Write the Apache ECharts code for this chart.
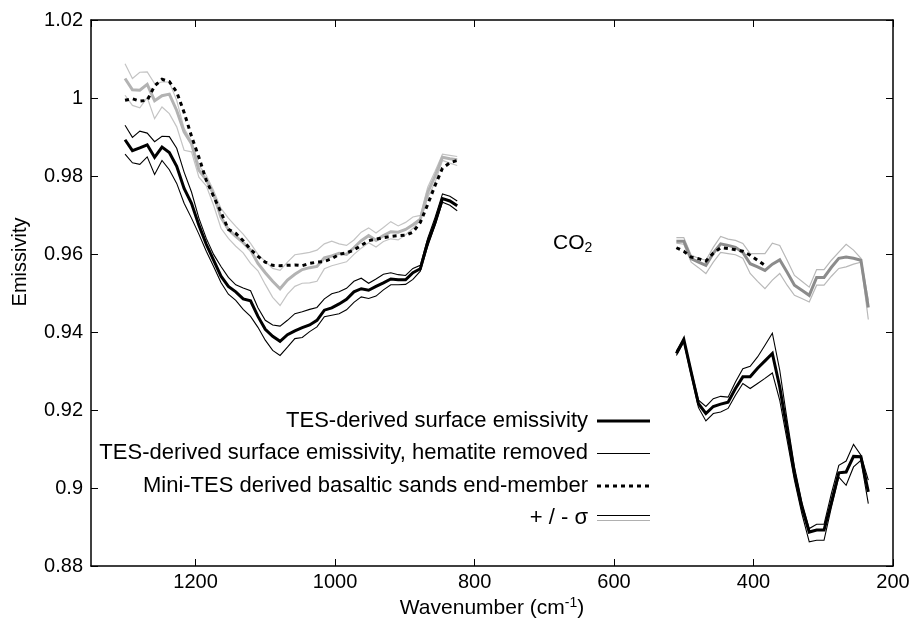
<!DOCTYPE html>
<html>
<head>
<meta charset="utf-8">
<script src="https://cdn.jsdelivr.net/npm/echarts@6/dist/echarts.min.js"></script>
<style>html,body{margin:0;padding:0;background:#fff;}#c{width:910px;height:618px;}</style>
</head>
<body>
<div id="c"></div>
<script>
// Wavenumbers (cm-1)
const wn1 = [1301.2,1290.6,1280.0,1269.4,1258.8,1248.2,1237.7,1227.1,1216.5,1205.9,1195.3,1184.7,1174.2,1163.6,1153.0,1142.4,1131.8,1121.2,1110.6,1100.1,1089.5,1078.9,1068.3,1057.7,1047.1,1036.5,1026.0,1015.4,1004.8,994.2,983.6,973.0,962.5,951.9,941.3,930.7,920.1,909.5,898.9,888.4,877.8,867.2,856.6,846.0,835.4,824.9];
const wn2 = [510.6,500.0,489.4,478.9,468.3,457.7,447.1,436.5,425.9,415.3,404.8,394.2,383.6,373.0,362.4,351.8,341.3,330.7,320.1,309.5,298.9,288.3,277.7,267.2,256.6,246.0,235.4];
const wnMini2 = [510.6,500.0,489.4,478.9,468.3,457.7,447.1,436.5,425.9,415.3,404.8,394.2,383.6];

// TES-derived surface emissivity (thick black) and +/- sigma
const tes1 = [0.9893,0.9865,0.9872,0.9880,0.9848,0.9874,0.9860,0.9825,0.9768,0.9730,0.9674,0.9625,0.9584,0.9543,0.9517,0.9503,0.9485,0.9480,0.9440,0.9407,0.9389,0.9376,0.9393,0.9403,0.9411,0.9418,0.9430,0.9456,0.9462,0.9472,0.9484,0.9503,0.9511,0.9507,0.9517,0.9526,0.9536,0.9534,0.9534,0.9552,0.9562,0.9630,0.9681,0.9742,0.9736,0.9724];
const tesHi1 = [0.9930,0.9899,0.9915,0.9910,0.9888,0.9902,0.9901,0.9871,0.9810,0.9759,0.9692,0.9640,0.9599,0.9568,0.9540,0.9521,0.9513,0.9506,0.9462,0.9430,0.9418,0.9415,0.9430,0.9447,0.9452,0.9458,0.9463,0.9485,0.9498,0.9503,0.9512,0.9530,0.9538,0.9525,0.9536,0.9548,0.9552,0.9547,0.9545,0.9563,0.9571,0.9640,0.9694,0.9754,0.9748,0.9736];
const tesLo1 = [0.9856,0.9834,0.9830,0.9849,0.9804,0.9840,0.9816,0.9781,0.9730,0.9692,0.9651,0.9607,0.9568,0.9527,0.9497,0.9481,0.9458,0.9440,0.9412,0.9379,0.9353,0.9340,0.9361,0.9383,0.9386,0.9401,0.9413,0.9439,0.9443,0.9447,0.9457,0.9476,0.9490,0.9486,0.9492,0.9508,0.9521,0.9521,0.9522,0.9535,0.9556,0.9620,0.9674,0.9733,0.9725,0.9711];
const tes2 = [0.9345,0.9381,0.9297,0.9216,0.9191,0.9209,0.9215,0.9220,0.9255,0.9285,0.9285,0.9307,0.9326,0.9345,0.9259,0.9148,0.9037,0.8951,0.8887,0.8892,0.8892,0.8964,0.9039,0.9041,0.9081,0.9080,0.8990];
const tesHi2 = [0.9351,0.9383,0.9302,0.9225,0.9209,0.9229,0.9235,0.9233,0.9272,0.9306,0.9312,0.9336,0.9366,0.9397,0.9302,0.9174,0.9054,0.8964,0.8896,0.8907,0.8907,0.8986,0.9058,0.9069,0.9112,0.9084,0.9020];
const tesLo2 = [0.9340,0.9374,0.9289,0.9206,0.9172,0.9191,0.9195,0.9204,0.9238,0.9268,0.9255,0.9268,0.9281,0.9295,0.9225,0.9122,0.9020,0.8934,0.8862,0.8866,0.8866,0.8951,0.9028,0.9007,0.9054,0.9071,0.8960];

// Hematite removed (thick gray) and +/- sigma
const hem1 = [1.0050,1.0021,1.0020,1.0035,0.9993,1.0006,1.0010,0.9968,0.9913,0.9883,0.9815,0.9790,0.9753,0.9694,0.9663,0.9645,0.9629,0.9610,0.9576,0.9552,0.9530,0.9511,0.9533,0.9548,0.9560,0.9565,0.9568,0.9590,0.9595,0.9602,0.9599,0.9616,0.9634,0.9647,0.9635,0.9647,0.9657,0.9656,0.9663,0.9675,0.9689,0.9758,0.9800,0.9848,0.9844,0.9842];
const hemHi1 = [1.0088,1.0050,1.0066,1.0067,1.0037,1.0041,1.0041,0.9994,0.9922,0.9889,0.9827,0.9802,0.9763,0.9717,0.9692,0.9671,0.9651,0.9627,0.9599,0.9581,0.9563,0.9558,0.9579,0.9598,0.9601,0.9604,0.9610,0.9626,0.9633,0.9626,0.9622,0.9636,0.9656,0.9667,0.9654,0.9668,0.9683,0.9672,0.9681,0.9695,0.9699,0.9771,0.9812,0.9856,0.9853,0.9850];
const hemLo1 = [1.0007,0.9981,0.9975,1.0001,0.9947,0.9977,0.9960,0.9926,0.9866,0.9862,0.9797,0.9775,0.9725,0.9666,0.9640,0.9620,0.9603,0.9576,0.9557,0.9522,0.9489,0.9468,0.9497,0.9517,0.9525,0.9526,0.9530,0.9562,0.9570,0.9575,0.9580,0.9599,0.9615,0.9629,0.9618,0.9632,0.9639,0.9636,0.9649,0.9666,0.9686,0.9745,0.9784,0.9840,0.9833,0.9827];
const hem2 = [0.9633,0.9633,0.9588,0.9579,0.9571,0.9602,0.9626,0.9622,0.9617,0.9604,0.9575,0.9567,0.9558,0.9574,0.9585,0.9553,0.9520,0.9507,0.9494,0.9540,0.9540,0.9566,0.9589,0.9592,0.9589,0.9584,0.9463];
const hemHi2 = [0.9642,0.9642,0.9597,0.9589,0.9584,0.9617,0.9645,0.9638,0.9635,0.9627,0.9601,0.9601,0.9601,0.9628,0.9622,0.9584,0.9545,0.9530,0.9515,0.9560,0.9560,0.9584,0.9605,0.9625,0.9610,0.9589,0.9481];
const hemLo2 = [0.9628,0.9625,0.9579,0.9565,0.9550,0.9579,0.9604,0.9601,0.9598,0.9589,0.9550,0.9530,0.9511,0.9533,0.9550,0.9520,0.9494,0.9486,0.9477,0.9520,0.9520,0.9543,0.9563,0.9567,0.9574,0.9579,0.9432];

// Mini-TES derived basaltic sands end-member (dotted)
const mini1 = [0.9994,0.9998,0.9992,0.9994,1.0031,1.0048,1.0042,1.0015,0.9963,0.9902,0.9848,0.9789,0.9748,0.9707,0.9663,0.9653,0.9634,0.9612,0.9594,0.9579,0.9571,0.9570,0.9571,0.9572,0.9570,0.9576,0.9579,0.9581,0.9588,0.9599,0.9603,0.9610,0.9622,0.9634,0.9638,0.9642,0.9645,0.9647,0.9648,0.9656,0.9681,0.9727,0.9776,0.9820,0.9834,0.9840];
const mini2 = [0.9616,0.9607,0.9592,0.9588,0.9582,0.9602,0.9616,0.9614,0.9611,0.9607,0.9597,0.9584,0.9571];

// Axis ticks
const xTicks = [200, 1200, 200];   // min, last labelled tick, interval
const xMax = 1350;
const yTicks = [0.88, 1.02, 0.02]; // min, max, interval

const legendLabels = ['TES-derived surface emissivity','TES-derived surface emissivity, hematite removed','Mini-TES derived basaltic sands end-member','+ / - \u03c3'];

const FONT = '"Liberation Sans", Arial, Helvetica, sans-serif';

function pairs(xs, ys){ return xs.map((x,i)=>[x, ys[i]]); }
function line(name, xs, ys, color, width, type){
  return {name, type:'line', data:pairs(xs,ys), symbol:'none', silent:true, animation:false,
    lineStyle:{color, width, type: type||'solid', cap:'butt', join:'miter'}};
}

const series = [
  line('hemLo1', wn1, hemLo1, '#c4c4c4', 1.2),
  line('hemHi1', wn1, hemHi1, '#c4c4c4', 1.2),
  line('hemLo2', wn2, hemLo2, '#b8b8b8', 1.2),
  line('hemHi2', wn2, hemHi2, '#b8b8b8', 1.2),
  line('hem1', wn1, hem1, '#b3b3b3', 3),
  line('hem2', wn2, hem2, '#8c8c8c', 3),
  line('tesLo1', wn1, tesLo1, '#000', 1.1),
  line('tesHi1', wn1, tesHi1, '#000', 1.1),
  line('tesLo2', wn2, tesLo2, '#000', 1.1),
  line('tesHi2', wn2, tesHi2, '#000', 1.1),
  line('tes1', wn1, tes1, '#000', 3),
  line('tes2', wn2, tes2, '#000', 3),
  line('mini1', wn1, mini1, '#000', 3, [4,4]),
  line('mini2', wnMini2, mini2, '#000', 3, [4,4])
];

const axisLineStyle = {show:true, lineStyle:{color:'#000', width:1.5}};
const tickStyle = {show:true, inside:true, length:7, lineStyle:{color:'#000', width:1}};

const legendY = [421, 453, 486, 518];
const textRight = 588, lx1 = 597, lx2 = 650;
const graphic = [];
legendLabels.forEach((t,i)=>{
  graphic.push({type:'text', x:textRight, y:legendY[i], silent:true,
    style:{text:t, fill:'#000', font:'22px '+FONT, textAlign:'right', textVerticalAlign:'middle', verticalAlign:'middle'}});
});
graphic.push({type:'line', silent:true, shape:{x1:lx1,y1:legendY[0],x2:lx2,y2:legendY[0]}, style:{stroke:'#000', lineWidth:3}});
graphic.push({type:'line', silent:true, shape:{x1:lx1,y1:legendY[1]+0.5,x2:lx2,y2:legendY[1]+0.5}, style:{stroke:'#000', lineWidth:1}});
graphic.push({type:'line', silent:true, shape:{x1:lx1,y1:legendY[2],x2:lx2,y2:legendY[2]}, style:{stroke:'#000', lineWidth:3, lineDash:[4,4]}});
graphic.push({type:'line', silent:true, shape:{x1:lx1,y1:legendY[3]-2.5,x2:lx2,y2:legendY[3]-2.5}, style:{stroke:'#000', lineWidth:1}});
graphic.push({type:'line', silent:true, shape:{x1:lx1,y1:legendY[3]+2.5,x2:lx2,y2:legendY[3]+2.5}, style:{stroke:'#b0b0b0', lineWidth:1.2}});
graphic.push({type:'text', x:553, y:243, silent:true,
  style:{text:'{a|CO}{s|2}', fill:'#000', textVerticalAlign:'middle', verticalAlign:'middle',
    rich:{a:{font:'21px '+FONT, fill:'#000', lineHeight:24}, s:{font:'14px '+FONT, fill:'#000', verticalAlign:'bottom', lineHeight:24, padding:[9,0,0,0]}}}});
graphic.push({type:'text', x:20, y:262, rotation:Math.PI/2, silent:true,
  style:{text:'Emissivity', fill:'#000', font:'20px '+FONT, textAlign:'center', textVerticalAlign:'middle', verticalAlign:'middle'}});

const fmtY = v => String(parseFloat(v.toFixed(2)));

const option = {
  animation:false,
  backgroundColor:'#fff',
  grid:{left:91, right:17, top:20, bottom:52, containLabel:false, outerBoundsMode:'none'},
  xAxis:[
    {type:'value', inverse:true, min:xTicks[0], max:xMax, interval:xTicks[2], position:'bottom',
     axisLine:axisLineStyle, axisTick:tickStyle, splitLine:{show:false},
     axisLabel:{show:true, color:'#000', fontSize:20, fontFamily:FONT, margin:6, showMaxLabel:false,
       formatter: v => (v <= xTicks[1] ? String(v) : '')},
     name:'{a|Wavenumber (cm}{s|-1}{a|)}', nameLocation:'middle', nameGap:30, nameMoveOverlap:false,
     nameTextStyle:{rich:{a:{fontSize:21, fontFamily:FONT, color:'#000', lineHeight:24}, s:{fontSize:14, fontFamily:FONT, color:'#000', verticalAlign:'top', lineHeight:24, padding:[0,0,8,0]}}}},
    {type:'value', inverse:true, min:xTicks[0], max:xMax, interval:xTicks[2], position:'top',
     axisLine:axisLineStyle, axisTick:tickStyle, axisLabel:{show:false}, splitLine:{show:false}}
  ],
  yAxis:[
    {type:'value', min:yTicks[0], max:yTicks[1], interval:yTicks[2], position:'left',
     axisLine:axisLineStyle, axisTick:tickStyle, splitLine:{show:false},
     axisLabel:{color:'#000', fontSize:20, fontFamily:FONT, margin:8, formatter:fmtY}},
    {type:'value', min:yTicks[0], max:yTicks[1], interval:yTicks[2], position:'right',
     axisLine:axisLineStyle, axisTick:tickStyle, axisLabel:{show:false}, splitLine:{show:false}}
  ],
  series: series,
  graphic: graphic
};

const chart = echarts.init(document.getElementById('c'), null, {renderer:'canvas'});
chart.setOption(option);
</script>
</body>
</html>
